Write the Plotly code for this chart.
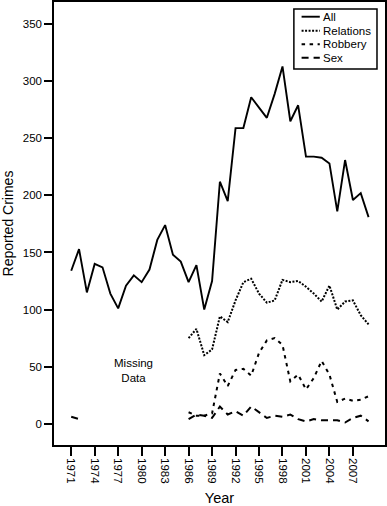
import plotly.graph_objects as go

# ---- data ----
years_all = list(range(1971, 2010))
all_crimes = [134, 153, 115, 140, 137, 114, 101, 121, 130, 124,
              135, 161, 174, 148, 142, 124, 139, 100, 125, 212,
              195, 259, 259, 286, 277, 268, 289, 313, 265, 279,
              234, 234, 233, 228, 186, 231, 196, 202, 181]

years_late = list(range(1986, 2010))
relations = [75, 83, 60, 65, 94, 89, 108, 124, 127, 114, 106, 108,
             126, 124, 125, 120, 114, 107, 121, 100, 107, 108, 95, 87]
robbery = [10, 7, 7, 9, 44, 33, 47, 48, 42, 62, 73, 75,
           69, 37, 43, 30, 40, 55, 43, 19, 22, 20, 21, 24]
sex_early_years = [1971, 1972]
sex_early = [6, 4]
sex_late = [4, 8, 7, 5, 15, 8, 11, 7, 15, 10, 5, 7,
            6, 8, 4, 2, 4, 3, 3, 3, 1, 5, 7, 2]

tick_years = list(range(1971, 2008, 3))
y_ticks = [0, 50, 100, 150, 200, 250, 300, 350]
legend_names = ["All", "Relations", "Robbery", "Sex"]

FONT = "Liberation Sans, Arial, sans-serif"
DASH = {
    "All": "solid",
    "Relations": "2px,1.5px",
    "Robbery": "3.5px,4.5px",
    "Sex": "7px,5px",
}
WIDTH = {"All": 1.9, "Relations": 2, "Robbery": 2, "Sex": 2}

fig = go.Figure()
fig.add_trace(go.Scatter(x=years_all, y=all_crimes, mode="lines",
                         line=dict(color="black", width=WIDTH["All"], dash=DASH["All"]),
                         name="All", showlegend=False))
fig.add_trace(go.Scatter(x=years_late, y=relations, mode="lines",
                         line=dict(color="black", width=WIDTH["Relations"], dash=DASH["Relations"]),
                         name="Relations", showlegend=False))
fig.add_trace(go.Scatter(x=years_late, y=robbery, mode="lines",
                         line=dict(color="black", width=WIDTH["Robbery"], dash=DASH["Robbery"]),
                         name="Robbery", showlegend=False))
fig.add_trace(go.Scatter(x=sex_early_years, y=sex_early, mode="lines",
                         line=dict(color="black", width=WIDTH["Sex"], dash=DASH["Sex"]),
                         name="Sex", showlegend=False))
fig.add_trace(go.Scatter(x=years_late, y=sex_late, mode="lines",
                         line=dict(color="black", width=WIDTH["Sex"], dash=DASH["Sex"]),
                         name="Sex", showlegend=False))

# ---- custom legend box ----
shapes = [dict(type="rect", xref="paper", yref="paper",
               x0=0.7247, x1=0.9758, y0=0.849, y1=0.984,
               line=dict(color="black", width=1.5), fillcolor="white", layer="above")]
annotations = []
row_y = [0.9668, 0.9352, 0.9045, 0.8743]
for name, yy in zip(legend_names, row_y):
    shapes.append(dict(type="line", xref="paper", yref="paper",
                       x0=0.748, x1=0.803, y0=yy, y1=yy, layer="above",
                       line=dict(color="black", width=WIDTH[name], dash=DASH[name])))
    annotations.append(dict(xref="paper", yref="paper", x=0.806, y=yy,
                            text=name, showarrow=False, xanchor="left", yanchor="middle",
                            font=dict(family=FONT, size=11.5, color="black")))

annotations.append(dict(x=1979, y=47, xref="x", yref="y", text="Missing<br>Data",
                        showarrow=False, align="center",
                        font=dict(family=FONT, size=11.5, color="black")))

fig.update_layout(
    width=387, height=506,
    margin=dict(l=54, r=2, t=2, b=61, autoexpand=False),
    paper_bgcolor="white", plot_bgcolor="white",
    font=dict(family=FONT, size=11.5, color="black"),
    shapes=shapes, annotations=annotations,
    showlegend=False,
)
fig.update_xaxes(
    range=[1968.8, 2011.1], tickvals=tick_years, ticktext=[str(t) for t in tick_years],
    tickangle=90, ticks="outside", ticklen=9, tickwidth=1.5, tickcolor="black",
    showline=True, linecolor="black", linewidth=1.5, mirror=True,
    showgrid=False, zeroline=False, automargin=False,
    title=dict(text="Year", font=dict(family=FONT, size=14.5), standoff=11),
    tickfont=dict(family=FONT, size=11.5),
)
fig.update_yaxes(
    range=[-18.7, 369.5], tickvals=y_ticks,
    ticks="outside", ticklen=8, tickwidth=1.5, tickcolor="black",
    showline=True, linecolor="black", linewidth=1.5, mirror=True,
    showgrid=False, zeroline=False, automargin=False,
    title=dict(text="Reported Crimes", font=dict(family=FONT, size=14), standoff=7),
    tickfont=dict(family=FONT, size=11.5),
)

fig.write_html("out.html",
               config={"displayModeBar": False},
               post_script="document.body.style.margin='0';document.body.style.overflow='hidden';")
